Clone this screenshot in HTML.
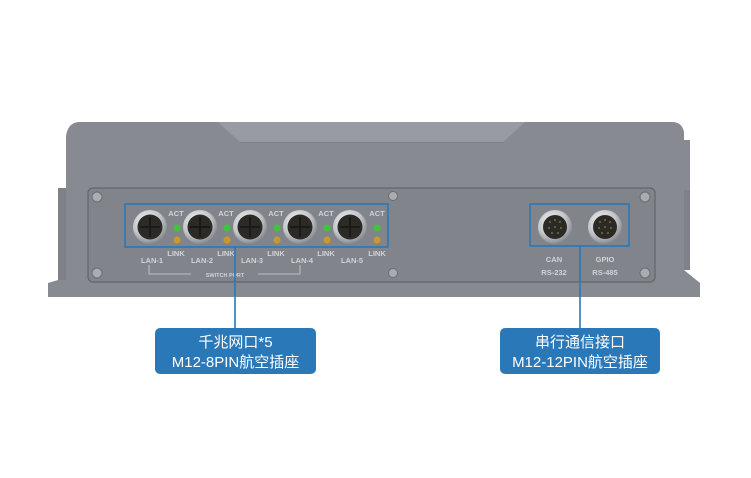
<!DOCTYPE html>
<html><head><meta charset="utf-8"><style>
html,body{margin:0;padding:0;background:#fff;width:751px;height:478px;overflow:hidden}
svg{display:block}
.t{font-family:"Liberation Sans",sans-serif;font-weight:bold;fill:#d0d3d6}
.c{font-family:"Liberation Sans","Noto Sans CJK SC",sans-serif;fill:#fff;font-size:15px}
</style></head><body>
<svg width="751" height="478" viewBox="0 0 751 478" xmlns="http://www.w3.org/2000/svg">
<defs>
<radialGradient id="ring" cx="0.4" cy="0.35" r="0.7"><stop offset="0" stop-color="#f4f4f4"/><stop offset="0.6" stop-color="#c4c6c9"/><stop offset="1" stop-color="#7a7e83"/></radialGradient>
</defs>
<!-- body -->
<path d="M80 122 L672 122 Q682 122 684 132 L684 140 L690 140 L690 200 L684 200 L684 270 L700 283 L700 297 L48 297 L48 283 L58 280 L58 190 L66 188 L66 136 Q68 122 80 122 Z" fill="#878b91"/>
<path d="M218 122 L525 122 L503 142 L240 142 Z" fill="#989ca2"/>
<path d="M240 142 L503 142 L503 143 L240 143 Z" fill="#7b7f85"/>
<rect x="58" y="188" width="8" height="92" fill="#7e8288"/>
<rect x="684" y="190" width="6" height="80" fill="#7e8288"/>
<!-- panel -->
<rect x="88" y="188" width="567" height="94" rx="5" fill="#81858b" stroke="#62666b" stroke-width="1.2"/>
<g fill="#a9acb0" stroke="#6a6e73">
<circle cx="97" cy="197" r="5"/><circle cx="97" cy="273" r="5"/><circle cx="645" cy="197" r="5"/><circle cx="645" cy="273" r="5"/><circle cx="393" cy="196" r="4.5"/><circle cx="393" cy="273" r="4.5"/>
</g>
<!-- LAN connectors -->
<g>
<circle cx="150" cy="227" r="17" fill="url(#ring)"/><circle cx="150" cy="227" r="12.5" fill="#2b2a27"/>
<circle cx="200" cy="227" r="17" fill="url(#ring)"/><circle cx="200" cy="227" r="12.5" fill="#2b2a27"/>
<circle cx="250" cy="227" r="17" fill="url(#ring)"/><circle cx="250" cy="227" r="12.5" fill="#2b2a27"/>
<circle cx="300" cy="227" r="17" fill="url(#ring)"/><circle cx="300" cy="227" r="12.5" fill="#2b2a27"/>
<circle cx="350" cy="227" r="17" fill="url(#ring)"/><circle cx="350" cy="227" r="12.5" fill="#2b2a27"/>
</g>
<g stroke="#151513" stroke-width="1.5">
<path d="M150 217v20M140 227h20M200 217v20M190 227h20M250 217v20M240 227h20M300 217v20M290 227h20M350 217v20M340 227h20"/>
</g>
<g fill="#3fc43a"><circle cx="177" cy="228" r="3.5"/><circle cx="227" cy="228" r="3.5"/><circle cx="277" cy="228" r="3.5"/><circle cx="327" cy="228" r="3.5"/><circle cx="377" cy="228" r="3.5"/></g>
<g fill="#c99a2a"><circle cx="177" cy="240" r="3.5"/><circle cx="227" cy="240" r="3.5"/><circle cx="277" cy="240" r="3.5"/><circle cx="327" cy="240" r="3.5"/><circle cx="377" cy="240" r="3.5"/></g>
<g class="t" font-size="7.5" text-anchor="middle">
<text x="176" y="216">ACT</text><text x="226" y="216">ACT</text><text x="276" y="216">ACT</text><text x="326" y="216">ACT</text><text x="377" y="216">ACT</text>
<text x="176" y="256">LINK</text><text x="226" y="256">LINK</text><text x="276" y="256">LINK</text><text x="326" y="256">LINK</text><text x="377" y="256">LINK</text>
<text x="152" y="263">LAN-1</text><text x="202" y="263">LAN-2</text><text x="252" y="263">LAN-3</text><text x="302" y="263">LAN-4</text><text x="352" y="263">LAN-5</text>
<text x="225" y="277" font-size="5.5">SWITCH PORT</text>
<text x="554" y="262">CAN</text><text x="554" y="275">RS-232</text>
<text x="605" y="262">GPIO</text><text x="605" y="275">RS-485</text>
</g>
<path d="M149 265v9h42M258 274h42v-9" stroke="#d0d3d6" fill="none" stroke-width="0.8"/>
<!-- serial connectors -->
<circle cx="555" cy="227" r="17" fill="url(#ring)"/><circle cx="555" cy="227" r="12" fill="#2b2a27"/>
<circle cx="605" cy="227" r="17" fill="url(#ring)"/><circle cx="605" cy="227" r="12" fill="#2b2a27"/>
<g fill="#7a6a3a">
<circle cx="550" cy="222" r="1"/><circle cx="555" cy="220" r="1"/><circle cx="560" cy="222" r="1"/><circle cx="549" cy="228" r="1"/><circle cx="555" cy="227" r="1"/><circle cx="561" cy="228" r="1"/><circle cx="552" cy="233" r="1"/><circle cx="558" cy="233" r="1"/>
<circle cx="600" cy="222" r="1"/><circle cx="605" cy="220" r="1"/><circle cx="610" cy="222" r="1"/><circle cx="599" cy="228" r="1"/><circle cx="605" cy="227" r="1"/><circle cx="611" cy="228" r="1"/><circle cx="602" cy="233" r="1"/><circle cx="608" cy="233" r="1"/>
</g>
<!-- blue boxes & lines -->
<g stroke="#2a78b8" stroke-width="1.6" fill="none">
<rect x="125" y="204" width="263" height="43"/>
<rect x="530" y="204" width="99" height="42"/>
<path d="M235 247V328M580 246V328"/>
</g>
<rect x="155" y="328" width="161" height="46" rx="5" fill="#2a78b8"/>
<rect x="500" y="328" width="160" height="46" rx="5" fill="#2a78b8"/>
<text class="c" x="235.5" y="347" text-anchor="middle">千兆网口*5</text>
<text class="c" x="235.5" y="367" text-anchor="middle">M12-8PIN航空插座</text>
<text class="c" x="580" y="347" text-anchor="middle">串行通信接口</text>
<text class="c" x="580" y="367" text-anchor="middle">M12-12PIN航空插座</text>
</svg>
</body></html>
